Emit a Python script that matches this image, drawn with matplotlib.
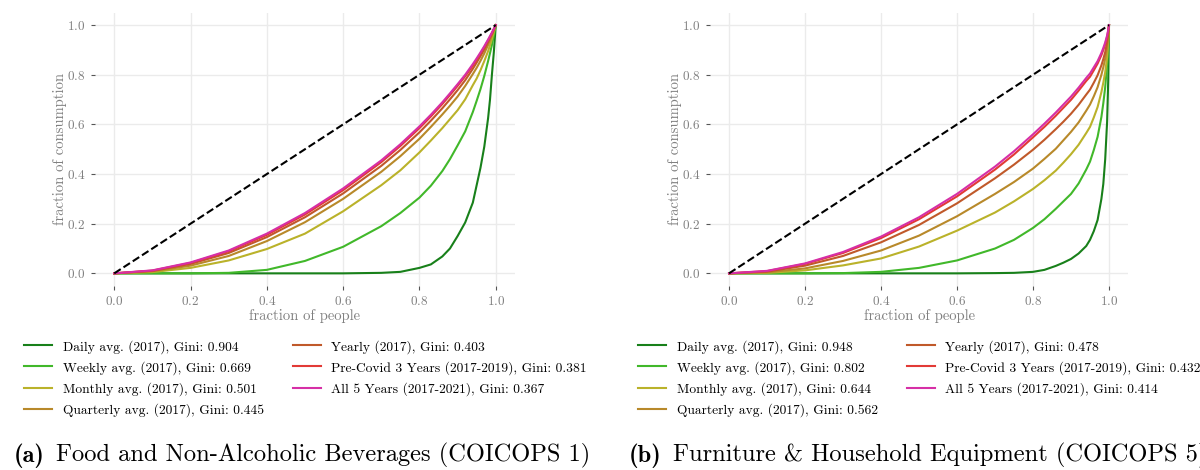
import matplotlib
matplotlib.use("Agg")
import matplotlib.pyplot as plt

plt.rcParams["font.family"] = "cmr10"
plt.rcParams["mathtext.fontset"] = "cm"
plt.rcParams["axes.formatter.use_mathtext"] = True

# fraction of people (shared x grid for all Lorenz curves, denser near the top)
people = [0, .1, .2, .3, .4, .5, .6, .7, .75, .8, .83, .86, .88, .9, .92, .94, .95,
          .96, .97, .98, .985, .99, .995, .998, 1]
equality = [0, 1]

names = ["Daily avg. (2017)", "Weekly avg. (2017)", "Monthly avg. (2017)",
         "Quarterly avg. (2017)", "Yearly (2017)", "Pre-Covid 3 Years (2017-2019)",
         "All 5 Years (2017-2021)"]
colors = ["#18801a", "#41b82a", "#bab22a", "#b8892a", "#c0592a", "#e23a36", "#d62fa6"]

# (a) Food and Non-Alcoholic Beverages
food_gini = [0.904, 0.669, 0.501, 0.445, 0.403, 0.381, 0.367]
food_daily = [0, 0, 0, 0, 0, 0, 0, .002, .006, .022, .036, .068, .100, .150, .205, .285, .355,
              .425, .510, .625, .700, .800, .890, .955, 1]
food_weekly = [0, 0, 0, .002, .014, .050, .107, .190, .243, .305, .353, .412, .460, .515, .572, .650, .695,
               .742, .795, .855, .887, .920, .958, .983, 1]
food_monthly = [0, .005, .022, .052, .098, .160, .250, .355, .415, .487, .535, .585, .621, .657, .701, .758, .785,
                .818, .855, .895, .919, .944, .971, .988, 1]
food_quarterly = [0, .008, .031, .070, .130, .206, .300, .409, .472, .542, .590, .640, .675, .712, .755, .803, .828,
                  .856, .886, .920, .939, .958, .978, .991, 1]
food_yearly = [0, .010, .038, .082, .146, .226, .322, .433, .497, .568, .615, .665, .701, .738, .778, .824, .849,
               .875, .902, .932, .948, .964, .982, .992, 1]
food_precovid = [0, .011, .042, .089, .155, .237, .335, .448, .513, .585, .632, .682, .718, .755, .794, .837, .861,
                 .885, .911, .939, .953, .968, .984, .993, 1]
food_all5 = [0, .012, .044, .092, .160, .243, .342, .455, .520, .592, .639, .689, .725, .762, .800, .843, .866,
             .890, .915, .942, .956, .970, .985, .994, 1]

# (b) Furniture & Household Equipment
furn_gini = [0.948, 0.802, 0.644, 0.562, 0.478, 0.432, 0.414]
furn_daily = [0, 0, 0, 0, 0, 0, 0, .001, .002, .006, .014, .030, .043, .058, .080, .110, .135,
              .170, .215, .300, .360, .460, .610, .780, 1]
furn_weekly = [0, 0, 0, .001, .006, .022, .052, .100, .135, .183, .218, .260, .290, .320, .362, .418, .450,
               .497, .550, .630, .685, .750, .840, .920, 1]
furn_monthly = [0, .002, .012, .032, .060, .108, .172, .245, .290, .340, .375, .414, .446, .480, .518, .565, .590,
                .628, .670, .730, .768, .810, .870, .935, 1]
furn_quarterly = [0, .004, .020, .050, .092, .152, .230, .320, .368, .422, .461, .502, .536, .570, .608, .655, .680,
                  .713, .750, .800, .830, .865, .910, .955, 1]
furn_yearly = [0, .007, .031, .070, .125, .195, .282, .383, .438, .498, .538, .581, .611, .643, .679, .720, .740,
               .768, .798, .838, .863, .891, .931, .966, 1]
furn_precovid = [0, .009, .038, .082, .142, .218, .310, .418, .479, .548, .590, .635, .667, .699, .736, .775, .792,
                 .818, .845, .879, .900, .923, .953, .978, 1]
furn_all5 = [0, .010, .040, .086, .148, .226, .320, .430, .492, .560, .603, .648, .680, .712, .748, .787, .805,
             .830, .855, .888, .908, .930, .958, .981, 1]

food_curves = [food_daily, food_weekly, food_monthly, food_quarterly, food_yearly, food_precovid, food_all5]
furn_curves = [furn_daily, furn_weekly, furn_monthly, furn_quarterly, furn_yearly, furn_precovid, furn_all5]


def drawLorenz(ax, curves, ginis, legendX):
    for curve, gini, name, color in zip(curves, ginis, names, colors):
        ax.plot(people, curve, color=color, lw=1.5, label=f"{name}, Gini: {gini:.3f}")
    ax.plot(equality, equality, color="black", lw=1.5, linestyle="--")
    ax.set_xlim(-0.05, 1.05)
    ax.set_ylim(-0.05, 1.05)
    ax.set_xticks([0, 0.2, 0.4, 0.6, 0.8, 1.0])
    ax.set_yticks([0, 0.2, 0.4, 0.6, 0.8, 1.0])
    ax.grid(True, color="#ebebeb", lw=1)
    ax.set_axisbelow(True)
    for s in ax.spines.values():
        s.set_visible(False)
    ax.tick_params(colors="#555555", labelcolor="#808080", labelsize=9.5, length=3, width=0.8, pad=4)
    ax.set_xlabel("fraction of people", fontsize=10.5, color="#808080")
    ax.set_ylabel("fraction of consumption", fontsize=10.5, color="#808080")
    ax.xaxis.set_label_coords(0.5, -0.085)
    ax.yaxis.set_label_coords(-0.067, 0.5)
    handles, labels = ax.get_legend_handles_labels()
    fig.legend(handles[:7], labels[:7], loc="upper left", bbox_to_anchor=(legendX, 0.277),
               ncol=2, frameon=False, fontsize=9.7, handlelength=2.07, handletextpad=0.8,
               columnspacing=2.15, labelspacing=0.54, borderaxespad=0, borderpad=0)


def drawCaption(ax, x, tag, title):
    t = fig.text(x, 0.004, tag, fontsize=17.6, family="cmb10", va="bottom")
    ax.annotate(title, xy=(1, 0), xycoords=t, xytext=(8, 0), textcoords="offset points",
                fontsize=17.6, va="bottom", annotation_clip=False)


fig = plt.figure(figsize=(12, 4.7), dpi=100)
axA = fig.add_axes([0.0793, 0.392, 0.3497, 0.581])
axB = fig.add_axes([0.5917, 0.392, 0.3483, 0.581])

drawLorenz(axA, food_curves, food_gini, 0.020)
drawLorenz(axB, furn_curves, furn_gini, 0.5317)

drawCaption(axA, 0.0117, "(a)", "Food and Non-Alcoholic Beverages (COICOPS 1)")
drawCaption(axB, 0.524, "(b)", "Furniture & Household Equipment (COICOPS 5)")

fig.savefig("out.png", dpi=100)
